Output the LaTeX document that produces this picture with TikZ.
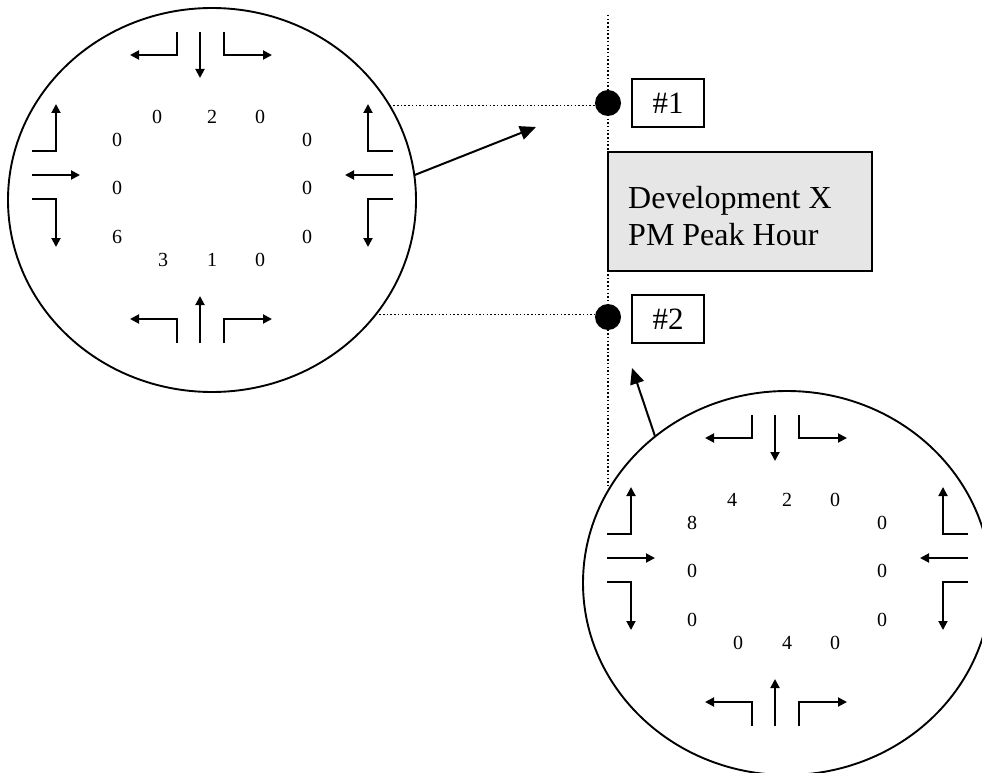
\documentclass[tikz,border=0pt]{standalone}
\usepackage{fontspec}
\setmainfont{Liberation Serif}
\usetikzlibrary{arrows.meta,shapes.geometric}
\definecolor{boxgray}{RGB}{230,230,230}
\tikzset{
  ring/.style={draw,ellipse,line width=1.9pt,minimum width=408pt,minimum height=384pt,inner sep=0pt,outer sep=0pt},
  mv/.style={line width=1.9pt,-{Triangle[length=9pt,width=9pt]}},
  bigarrow/.style={line width=2pt,-{Triangle[length=16pt,width=14pt]}},
  dotline/.style={line width=1.5pt,dash pattern=on 1.5pt off 2.2pt},
  num/.style={inner sep=0pt,font=\fontsize{20}{24}\selectfont},
  tag/.style={draw,line width=1.5pt,minimum width=72pt,minimum height=48pt,inner sep=0pt,font=\fontsize{31}{36}\selectfont},
  blob/.style={circle,fill=black,minimum size=26pt,inner sep=0pt,outer sep=0pt},
  devtext/.style={inner sep=0pt,anchor=base west,font=\fontsize{32}{37}\selectfont}
}
\begin{document}
\begin{tikzpicture}[x=1pt,y=-1pt]
\clip (0,0) rectangle (982,773);
% circles
\node[ring] (c1) at (212,200) {};
\node[ring] (c2) at (787,583) {};
% movement arrows inside circles
\foreach \cx/\cy/\nm/\na/\nb/\nc/\wa/\wb/\wc/\ea/\eb/\ec/\sa/\sb/\sc in
  {212/200/p/0/2/0/0/0/6/0/0/0/3/1/0, 787/583/q/4/2/0/8/0/0/0/0/0/0/4/0}{
  \begin{scope}[shift={(\cx,\cy)}]
    % north approach
    \draw[mv] (-35,-168) -- (-35,-145) -- (-82,-145);
    \draw[mv] (-12,-168) -- (-12,-122);
    \draw[mv] (12,-168) -- (12,-145) -- (60,-145);
    % south approach
    \draw[mv] (-35,143) -- (-35,119) -- (-82,119);
    \draw[mv] (-12,143) -- (-12,96);
    \draw[mv] (12,143) -- (12,119) -- (60,119);
    % west approach
    \draw[mv] (-180,-49) -- (-156,-49) -- (-156,-96);
    \draw[mv] (-180,-25) -- (-132,-25);
    \draw[mv] (-180,-1) -- (-156,-1) -- (-156,47);
    % east approach
    \draw[mv] (181,-49) -- (156,-49) -- (156,-96);
    \draw[mv] (181,-25) -- (133,-25);
    \draw[mv] (181,-1) -- (156,-1) -- (156,47);
    % volumes
    \node[num] (\nm n1) at (-55,-83) {\na};
    \node[num] (\nm n2) at (0,-83) {\nb};
    \node[num] (\nm n3) at (48,-83) {\nc};
    \node[num] (\nm w1) at (-95,-60) {\wa};
    \node[num] (\nm w2) at (-95,-12) {\wb};
    \node[num] (\nm w3) at (-95,37) {\wc};
    \node[num] (\nm e1) at (95,-60) {\ea};
    \node[num] (\nm e2) at (95,-12) {\eb};
    \node[num] (\nm e3) at (95,37) {\ec};
    \node[num] (\nm s1) at (-49,60) {\sa};
    \node[num] (\nm s2) at (0,60) {\sb};
    \node[num] (\nm s3) at (48,60) {\sc};
  \end{scope}
}
% vertical dotted line
\coordinate (vtop) at (608,15);
\draw[dotline] (vtop) -- (vtop |- c2.152.8);
% dots
\node[blob] (d1) at (608,103) {};
\node[blob] (d2) at (608,317) {};
% horizontal dotted leaders
\draw[dotline] (c1.28.9) -- (d1.west |- c1.28.9);
\draw[dotline] (c1.-35.3) -- (d2.west |- c1.-35.3);
% tags
\node[tag] (t1) at (668,103) {\#1};
\node[tag] (t2) at (668,319) {\#2};
% description box
\node[draw,fill=boxgray,line width=1.5pt,minimum width=264pt,minimum height=119pt,inner sep=0pt] (devbox) at (740,211.5) {};
\node[devtext] (dev1) at (628,208.6) {Development X};
\node[devtext] (dev2) at (628,245.6) {PM Peak Hour};
% pointer arrows
\coordinate (p1) at (536,127);
\coordinate (p2) at (632,368);
\draw[bigarrow] (c1.7) -- (p1);
\draw[bigarrow] (c2.132.5) -- (p2);
\end{tikzpicture}
\end{document}
